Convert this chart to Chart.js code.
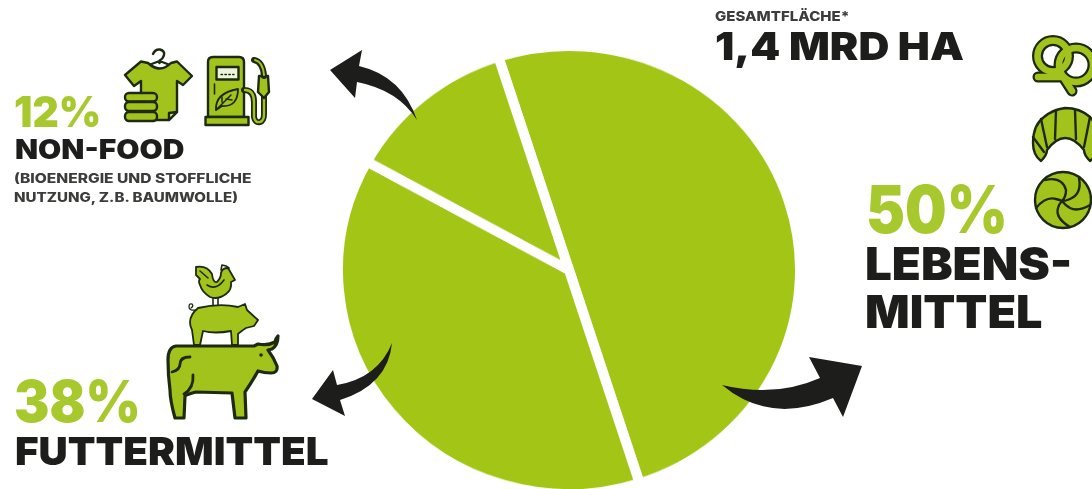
<!DOCTYPE html>
<html lang="de">
<head>
<meta charset="utf-8">
<title>Flächennutzung</title>
<script src="https://cdn.jsdelivr.net/npm/chart.js@4"></script>
<style>
  html, body { margin: 0; padding: 0; background: #fff; }
  body { position: relative; width: 1092px; height: 489px; overflow: hidden; font-family: Inter, "Open Sans", sans-serif; }
  #pie { position: absolute; left: 333px; top: 34px; transform: scaleY(0.969); }
  #art { position: absolute; left: 0; top: 0; }
  .t { position: absolute; white-space: nowrap; line-height: 1; font-weight: 900; color: #1d1d1b; transform-origin: 0 50%; }
  .pct { color: #a8c92e; }
  .sm { color: #3c3c3a; font-weight: 800; }
</style>
</head>
<body>
<canvas id="pie" width="472" height="472"></canvas>

<svg id="art" width="1092" height="489" viewBox="0 0 1092 489">
  <!-- arrows -->
  <g fill="#1d1d1b">
    <path d="M330,70 L362,50 L359,66 Q402,76 417,120 Q398,90 357,82 L355,98 Z"/>
    <path d="M312,399 L333,370 L337,385 Q378,378 392,343 Q388,385 340,400 L345,416 Z"/>
    <path d="M862,366 L809,357 L820,378 Q775,398 722,385 Q770,425 833,398 L843,417 Z"/>
  </g>

  <g fill="#a2c31c" stroke="#1e2a10" stroke-width="2.4" stroke-linejoin="round" stroke-linecap="round">
    <!-- shirt and stack -->
    <path fill="none" d="M153,54 Q155,49 160,49.5 Q165,51 164,55 Q163,59 159.5,60.5 L159.5,63 M149,65 L159.5,61 L170,65"/>
    <path d="M148,63 L141,61.5 L125,75 L134,86 L141,81 L141,120 L169,120 L177,112 L177,81 L183,85 L192,76 L177,61.5 L171,63 Q160,74 148,63 Z"/>
    <path fill="#d9e6a6" d="M169,120 L169,113 L177,112 Z"/>
    <rect x="125" y="93" width="32" height="8.5" rx="4"/>
    <rect x="125" y="102" width="32" height="9" rx="4"/>
    <rect x="125" y="112" width="32" height="9" rx="4"/>

    <!-- fuel pump -->
    <path d="M208,117 L208,62 Q208,57 213,57 L239,57 Q244,57 244,62 L244,117 Z"/>
    <rect x="205.5" y="117" width="43" height="8" />
    <rect x="216.5" y="67" width="22" height="12.5" fill="#eef3dc"/>
    <path fill="none" stroke-width="1.4" stroke-dasharray="1.5 2.4" d="M221,74.5 H234"/>
    <path d="M216,110 Q215,93 238,89 Q238,107 222,106 Z" stroke-width="1.8"/>
    <path fill="none" stroke-width="1.5" d="M216,110 L231,95 M222,102 L222,97 M226,99 L232,100"/>
    <path fill="none" stroke-width="1.6" d="M214.5,84 V94"/>
    <path fill="none" stroke-width="6" d="M244,90 Q254,90 254,102 V117 Q255,123 260,122 Q264,121 264,114 V92"/>
    <path fill="none" stroke="#a2c31c" stroke-width="2.4" d="M245,90 Q254,90 254,102 V117 Q255,123 260,122 Q264,121 264,114 V93"/>
    <path d="M259,76 L268,76 L269,92 L264,98 L258,92 Z"/>
    <path fill="none" stroke-width="6" d="M254,60 Q263,62 264,76"/>
    <path fill="none" stroke="#a2c31c" stroke-width="2" d="M255,60 Q263,62 264,75"/>

    <!-- animal stack -->
    <path d="M196,267 Q207,265 212,274 Q213,283 217,282 Q221,278 221,273 Q222,268 228,268 L231,273 L235,280 L231,282 Q232,290 226,294 Q218,300 210,297 Q202,292 200,285 Q198,281 200,279 L196,275 Z" stroke-width="1.8"/>
    <path fill="none" stroke-width="1.6" d="M221,270 L222,265 L226,266 L229,268 M207,285 Q216,291 224,280 M200,271 L208,278 M213,298 V305 M218,298 V305"/>
    <path d="M198,308 Q220,303 238,307 L245,304 L247,310 L258,320 L254,326 L246,328 Q240,332 238,334 L238,345 L232,345 L231,331 Q215,334 203,331 L200,345 L194,345 L192,330 Q186,318 198,308 Z" stroke-width="1.8"/>
    <path fill="none" stroke-width="1.3" d="M196,310 Q189,311 189,307 Q189,303 192,304 Q194,306 191,308"/>
    <path d="M176,346 L254,346 L258,344 Q268,346 275,342 Q276,338 278,336 Q278,345 272,349 L268,350 Q274,358 277,366 Q278,373 271,373 Q264,373 258,371 Q252,382 245,392 L246,418 L235,418 L232,393 L196,392 Q188,394 185,396 L184,418 L175,418 Q170,400 170,390 Q168,375 168,360 Q168,347 176,346 Z" stroke-width="3.2"/>
    <path fill="none" stroke-width="2.8" d="M190,357 Q180,357 180,364 Q180,370 172,372 M193,375 Q194,388 184,394"/>
    <circle cx="261" cy="355" r="1.8" fill="#1e2a10" stroke="none"/>

    <!-- pretzel -->
    <g fill="none" stroke-width="11">
      <circle cx="1076" cy="65" r="17"/>
      <circle cx="1053" cy="56" r="15.5"/>
      <path d="M1038,77 H1063 L1072,91"/>
    </g>
    <g fill="none" stroke="#a2c31c" stroke-width="6.5">
      <circle cx="1076" cy="65" r="17"/>
      <circle cx="1053" cy="56" r="15.5"/>
      <path d="M1038,77 H1063 L1072,91"/>
    </g>

    <!-- croissant -->
    <path d="M1041,161 Q1033,155 1033,143 Q1033,125 1044,117 Q1052,110 1065,108 Q1080,108 1090,117 Q1098,125 1098,143 Q1098,155 1090,161 Q1084,155 1084,150 Q1065,126 1047,150 Q1047,155 1041,161 Z"/>
    <path fill="none" d="M1056,110 L1055,139 M1075,110 L1076,139 M1041,119 L1047,147 M1090,117 L1084,147 M1033,137 L1044,152"/>

    <!-- bun -->
    <circle cx="1063" cy="200" r="28" />
    <path fill="none" d="M1045,180 Q1062,176 1066,190 Q1066,197 1062,201 M1079,178 Q1082,194 1070,199 Q1066,201 1062,201 M1090,205 Q1078,212 1070,208 Q1065,205 1062,201 M1070,227 Q1055,218 1058,208 Q1059,204 1062,201 M1036,208 Q1046,196 1056,199 Q1060,200 1062,201"/>
  </g>
</svg>

<div class="t pct" id="pctNonFood" style="left:14px; top:91px; font-size:42.6px" data-w="87"></div>
<div class="t" style="left:15px; top:136.3px; font-size:26.8px" data-w="169">NON-FOOD</div>
<div class="t sm" style="left:14px; top:172.3px; font-size:13px" data-w="237">(BIOENERGIE UND STOFFLICHE</div>
<div class="t sm" style="left:14px; top:191.3px; font-size:13px" data-w="224">NUTZUNG, Z.B. BAUMWOLLE)</div>
<div class="t pct" id="pctFutter" style="left:14px; top:372px; font-size:58px" data-w="127"></div>
<div class="t" style="left:15px; top:431.7px; font-size:38.5px" data-w="314">FUTTERMITTEL</div>
<div class="t sm" style="left:715px; top:10.2px; font-size:13.7px" data-w="135">GESAMTFLÄCHE*</div>
<div class="t" style="left:715px; top:26.7px; font-size:38.5px" data-w="249">1,4 MRD HA</div>
<div class="t pct" id="pctLebens" style="left:866px; top:176px; font-size:66px" data-w="142"></div>
<div class="t" style="left:865px; top:240.8px; font-size:45.4px" data-w="207">LEBENS-</div>
<div class="t" style="left:865px; top:288.8px; font-size:45.4px" data-w="177">MITTEL</div>

<script>
const categories = ["Lebensmittel", "Futtermittel", "Non-Food"];
const shares = [50, 38, 12];
const sliceColors = ["#a3c616", "#a3c616", "#a3c616"];

// percent labels come straight from the shares
document.getElementById("pctLebens").textContent = shares[0] + "%";
document.getElementById("pctFutter").textContent = shares[1] + "%";
document.getElementById("pctNonFood").textContent = shares[2] + "%";

const config = {
  type: "pie",
  data: {
    labels: categories,
    datasets: [{
      data: shares,
      backgroundColor: sliceColors,
      borderColor: "#ffffff",
      borderWidth: 10,
      borderJoinStyle: "miter",
    }],
  },
  options: {
    responsive: false,
    animation: false,
    rotation: -17.8,
    layout: { padding: 0 },
    plugins: {
      legend: { display: false },
      tooltip: { enabled: false },
    },
  },
};

new Chart(document.getElementById("pie"), config);

// squeeze each label to its set width
function fitLabels() {
  document.querySelectorAll(".t").forEach((el) => {
    const wanted = Number(el.dataset.w);
    el.style.transform = "scaleX(" + wanted / el.offsetWidth + ")";
  });
}
fitLabels();
document.fonts.ready.then(fitLabels);
</script>
</body>
</html>
